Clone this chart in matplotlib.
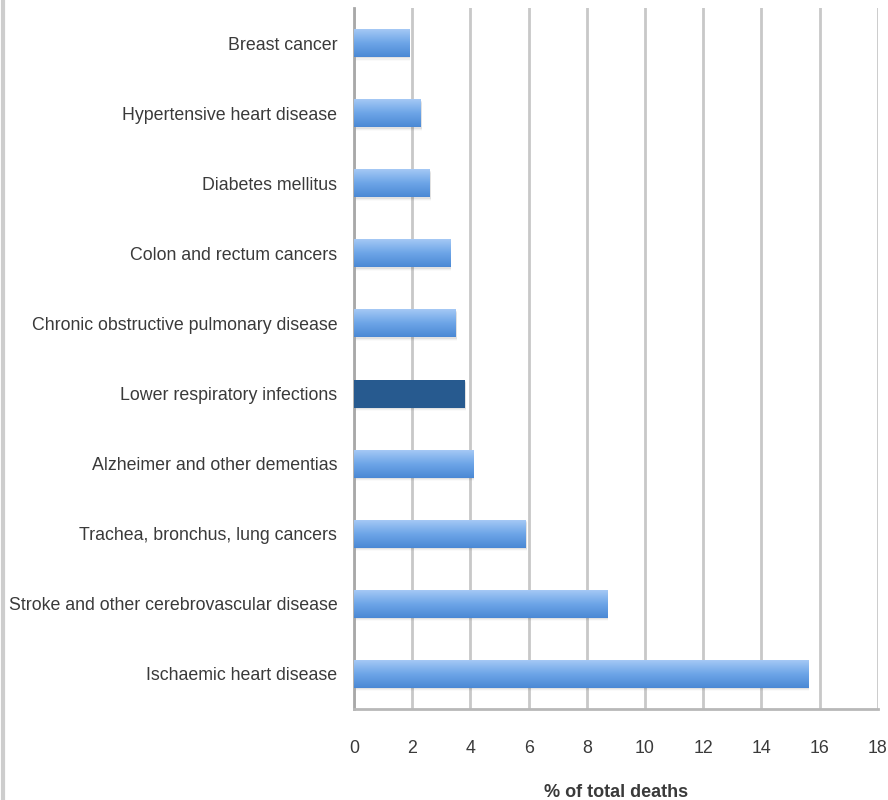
import numpy as np
import matplotlib
matplotlib.use("Agg")
import matplotlib.pyplot as plt
from matplotlib.colors import LinearSegmentedColormap
from matplotlib.lines import Line2D

plt.rcParams["font.family"] = ["Liberation Sans Narrow", "Liberation Sans", "DejaVu Sans"]

causes = [
    "Ischaemic heart disease",
    "Stroke and other cerebrovascular disease",
    "Trachea, bronchus, lung cancers",
    "Alzheimer and other dementias",
    "Lower respiratory infections",
    "Chronic obstructive pulmonary disease",
    "Colon and rectum cancers",
    "Diabetes mellitus",
    "Hypertensive heart disease",
    "Breast cancer",
]
pct_deaths = [15.6, 8.7, 5.9, 4.1, 3.8, 3.5, 3.3, 2.6, 2.3, 1.9]
highlight = "Lower respiratory infections"

text_col = "#3a3a3a"
grad = LinearSegmentedColormap.from_list("bar", ["#4a88d4", "#6ea6e8", "#a9cbf6"])

fig = plt.figure(figsize=(8.88, 8.0), dpi=100)
ax = fig.add_axes([0.3986, 0.11375, 0.59, 0.87625])

y = np.arange(len(causes))
height = 0.4

# soft drop shadow under each bar
for k, a in enumerate([0.06, 0.04, 0.02]):
    ax.barh(y - 0.02 - 0.015 * k, pct_deaths, height=height, left=0.04,
            color="#000000", alpha=a, zorder=2, linewidth=0)

bars = ax.barh(y, pct_deaths, height=height, color="none", linewidth=0, zorder=3)
gradient = np.linspace(0, 1, 256).reshape(-1, 1)
for bar, name in zip(bars, causes):
    x0, y0 = bar.get_x(), bar.get_y()
    w, h = bar.get_width(), bar.get_height()
    if name == highlight:
        bar.set_facecolor("#275a8f")
        continue
    img = ax.imshow(gradient, cmap=grad, aspect="auto", origin="lower",
                    extent=[x0, x0 + w, y0, y0 + h], zorder=3)
    img.set_clip_path(bar)

ax.set_xlim(0, 18)
ax.set_ylim(-0.5, len(causes) - 0.5)
ax.set_xticks(np.arange(0, 19, 2))
ax.set_yticks(y)
ax.set_yticklabels(causes)

ax.xaxis.grid(True, color="#c8c8c8", linewidth=2)
ax.set_axisbelow(True)
ax.tick_params(axis="both", length=0, labelsize=12.8, colors=text_col)
ax.tick_params(axis="x", pad=22)
ax.tick_params(axis="y", pad=12)

ax.spines["top"].set_visible(False)
ax.spines["right"].set_visible(False)
ax.spines["left"].set_color("#a8a8a8")
ax.spines["bottom"].set_color("#b8b8b8")
ax.spines["left"].set_linewidth(2)
ax.spines["bottom"].set_linewidth(2)

ax.set_xlabel("% of total deaths", fontsize=13, fontweight="bold",
              color=text_col, labelpad=20)

# outer frame line on the left edge
fig.add_artist(Line2D([0.003, 0.003], [0, 1], color="#cdcdcd", linewidth=3,
                      transform=fig.transFigure))

fig.savefig("out.png", dpi=100)
